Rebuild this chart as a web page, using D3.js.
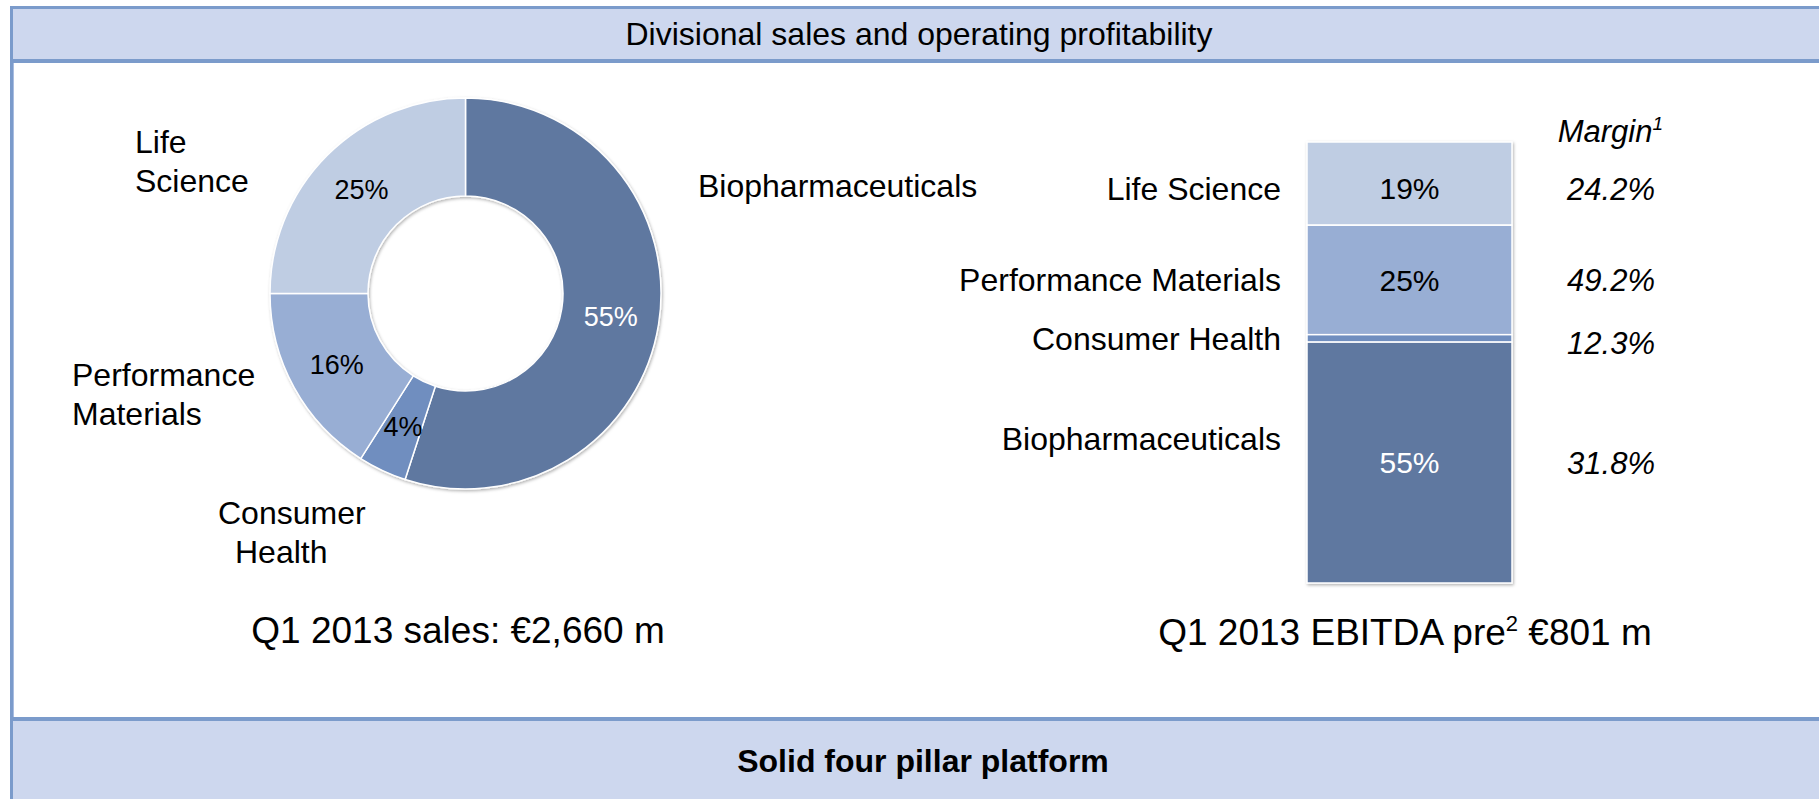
<!DOCTYPE html>
<html>
<head>
<meta charset="utf-8">
<script src="https://cdn.jsdelivr.net/npm/d3@7"></script>
<style>
  body { margin: 0; background: #fff; }
  svg { display: block; font-family: "Liberation Sans", Arial, sans-serif; }
</style>
</head>
<body>
<div id="chart"></div>
<script>
// data
const categories = ["Biopharmaceuticals", "Consumer Health", "Performance Materials", "Life Science"];
const salesShare = [55, 4, 16, 25];           // % of Q1 2013 sales
const ebitdaShare = [55, 1.7, 25, 19];        // % of EBITDA pre (Consumer Health not labelled, estimated)
const ebitdaLabels = ["55%", "", "25%", "19%"];
const margins = ["31.8%", "12.3%", "49.2%", "24.2%"];
const colors = ["#5f78a0", "#6f8ebf", "#98aed4", "#bfcde3"];

const title = "Divisional sales and operating profitability";
const footer = "Solid four pillar platform";

const width = 1819, height = 799;
const border = "#7b9bcb", band = "#cdd7ee";

const svg = d3.select("#chart")
    .append("svg")
    .attr("width", width)
    .attr("height", height);

const defs = svg.append("defs");
defs.append("filter")
    .attr("id", "shadow")
    .attr("x", "-10%").attr("y", "-10%")
    .attr("width", "120%").attr("height", "120%")
  .append("feDropShadow")
    .attr("dx", 1).attr("dy", 1.5)
    .attr("stdDeviation", 1.5)
    .attr("flood-color", "#000")
    .attr("flood-opacity", 0.3);

// header + footer bands
svg.append("rect").attr("x", 10).attr("y", 6).attr("width", width - 10).attr("height", 57).attr("fill", border);
svg.append("rect").attr("x", 13).attr("y", 9).attr("width", width - 13).attr("height", 50).attr("fill", band);
svg.append("rect").attr("x", 10).attr("y", 717).attr("width", width - 10).attr("height", 4).attr("fill", border);
svg.append("rect").attr("x", 13).attr("y", 721).attr("width", width - 13).attr("height", height - 721).attr("fill", band);
svg.append("rect").attr("x", 10).attr("y", 6).attr("width", 3).attr("height", height - 6).attr("fill", border);
svg.append("rect").attr("x", 13).attr("y", 63).attr("width", 1).attr("height", 654).attr("fill", "#a9bde0");

svg.append("text")
    .attr("x", 919).attr("y", 45)
    .attr("text-anchor", "middle")
    .attr("font-size", 32)
    .text(title);

svg.append("text")
    .attr("x", 923).attr("y", 772)
    .attr("text-anchor", "middle")
    .attr("font-size", 32)
    .attr("font-weight", "bold")
    .text(footer);

// ---------- donut: sales ----------
const cx = 465.5, cy = 293.5, outerR = 195.5, innerR = 97.5;

const pie = d3.pie().sort(null).value(d => d.value);
const slices = pie(categories.map((c, i) => ({name: c, value: salesShare[i], color: colors[i]})));

const arc = d3.arc().innerRadius(innerR).outerRadius(outerR);
const labelArc = d3.arc().innerRadius(147).outerRadius(147);

const donut = svg.append("g")
    .attr("transform", `translate(${cx},${cy})`);

donut.append("g")
    .attr("filter", "url(#shadow)")
    .selectAll("path")
    .data(slices)
    .join("path")
      .attr("d", arc)
      .attr("fill", d => d.data.color)
      .attr("stroke", "#fff")
      .attr("stroke-width", 1.5);

donut.selectAll("text.pct")
    .data(slices)
    .join("text")
      .attr("class", "pct")
      .attr("transform", d => `translate(${labelArc.centroid(d)})`)
      .attr("text-anchor", "middle")
      .attr("dy", "0.36em")
      .attr("font-size", 27)
      .attr("fill", (d, i) => i === 0 ? "#fff" : "#000")
      .text(d => d.value + "%");

// outside labels for the donut
const donutLabels = [
  {lines: ["Biopharmaceuticals"], x: [698], y: 197},
  {lines: ["Consumer", "Health"], x: [218, 235], y: 524},
  {lines: ["Performance", "Materials"], x: [72, 72], y: 386},
  {lines: ["Life", "Science"], x: [135, 135], y: 153}
];
donutLabels.forEach(l => {
  const t = svg.append("text").attr("font-size", 32);
  l.lines.forEach((s, j) => {
    t.append("tspan").attr("x", l.x[j]).attr("y", l.y + j * 39).text(s);
  });
});

svg.append("text")
    .attr("x", 458).attr("y", 643)
    .attr("text-anchor", "middle")
    .attr("font-size", 37)
    .text("Q1 2013 sales: €2,660 m");

// ---------- stacked bar: EBITDA ----------
const barX = 1307, barW = 205;
const order = [3, 2, 1, 0];    // top to bottom: LS, PM, CH, Bio
const total = d3.sum(ebitdaShare);
const yScale = d3.scaleLinear().domain([0, total]).range([142, 583]);

let acc = 0;
const segs = order.map(i => {
  const s = {i, y0: yScale(acc), y1: yScale(acc + ebitdaShare[i])};
  acc += ebitdaShare[i];
  return s;
});
// label line for each segment (top one sits a little low, tall one a little high)
const labelY = d => {
  const mid = (d.y0 + d.y1) / 2;
  if (d.y0 === yScale(0)) return mid + 5;
  return mid;
};

const bar = svg.append("g");
bar.append("g")
    .attr("filter", "url(#shadow)")
    .selectAll("rect")
    .data(segs)
    .join("rect")
      .attr("x", barX)
      .attr("y", d => d.y0)
      .attr("width", barW)
      .attr("height", d => d.y1 - d.y0)
      .attr("fill", d => colors[d.i])
      .attr("stroke", "#fff")
      .attr("stroke-width", 1.5);

bar.selectAll("text.seg")
    .data(segs)
    .join("text")
      .attr("class", "seg")
      .attr("x", barX + barW / 2)
      .attr("y", labelY)
      .attr("dy", "0.36em")
      .attr("text-anchor", "middle")
      .attr("font-size", 30)
      .attr("fill", d => d.i === 0 ? "#fff" : "#000")
      .text(d => ebitdaLabels[d.i]);

// category names to the left of the bar
bar.selectAll("text.cat")
    .data(segs)
    .join("text")
      .attr("class", "cat")
      .attr("x", 1281)
      .attr("y", d => Math.min(labelY(d), d.y0 + 96))
      .attr("dy", "0.36em")
      .attr("text-anchor", "end")
      .attr("font-size", 32)
      .text(d => categories[d.i]);

// margins to the right
bar.selectAll("text.margin")
    .data(segs)
    .join("text")
      .attr("class", "margin")
      .attr("x", 1655)
      .attr("y", d => Math.max(labelY(d), d.y0 + 8))
      .attr("dy", "0.36em")
      .attr("text-anchor", "end")
      .attr("font-size", 31)
      .attr("font-style", "italic")
      .text(d => margins[d.i]);

const mh = svg.append("text")
    .attr("x", 1663).attr("y", 142)
    .attr("text-anchor", "end")
    .attr("font-size", 31)
    .attr("font-style", "italic");
mh.append("tspan").text("Margin");
mh.append("tspan").attr("font-size", 19).attr("dy", -12).text("1");

const eb = svg.append("text")
    .attr("x", 1405).attr("y", 645)
    .attr("text-anchor", "middle")
    .attr("font-size", 37);
eb.append("tspan").text("Q1 2013 EBITDA pre");
eb.append("tspan").attr("font-size", 22).attr("dy", -14).text("2");
eb.append("tspan").attr("dy", 14).text(" €801 m");
</script>
</body>
</html>
